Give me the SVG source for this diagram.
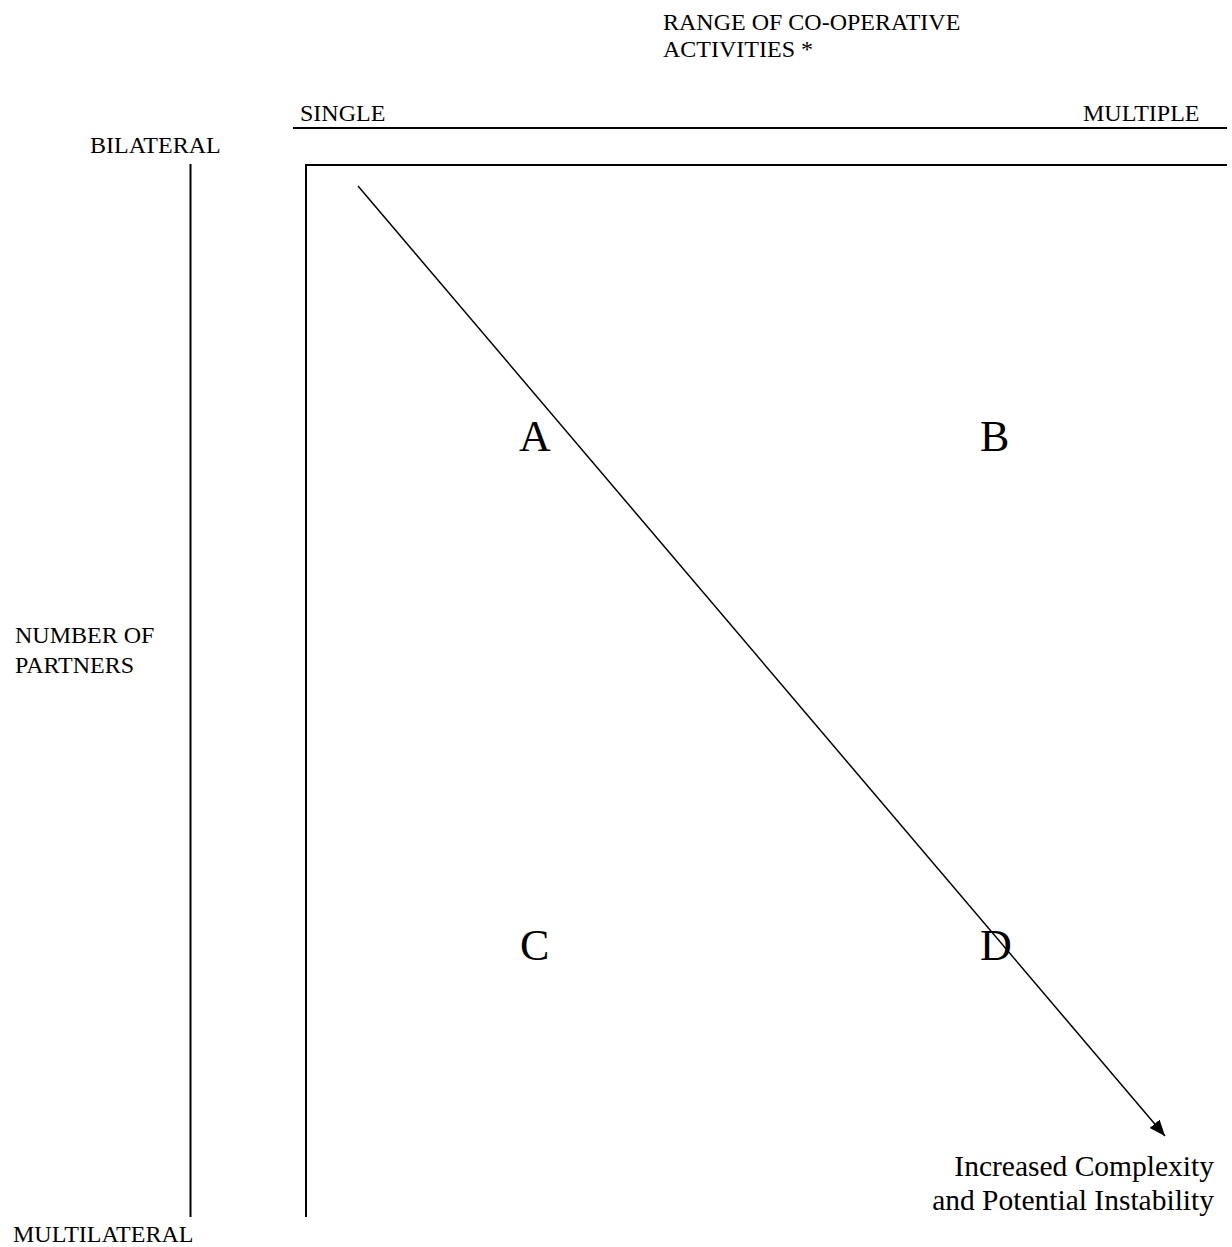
<svg xmlns="http://www.w3.org/2000/svg" width="1232" height="1247" viewBox="0 0 1232 1247">
<style>
.t{font-family:"Liberation Serif","Times New Roman",serif;font-size:24px;fill:#000}
.big{font-family:"Liberation Serif","Times New Roman",serif;font-size:44px;fill:#000}
.note{font-family:"Liberation Serif","Times New Roman",serif;font-size:29.5px;fill:#000}
.ax{stroke:#000;stroke-width:2;fill:none}
.dg{stroke:#000;stroke-width:1.5;fill:none}
</style>
<defs>
<marker id="arr" markerUnits="userSpaceOnUse" markerWidth="18" markerHeight="14" refX="16" refY="6.5" orient="auto">
<path d="M0,0 L16,6.5 L0,13 Z" fill="#000"/>
</marker>
</defs>
<rect width="1232" height="1247" fill="#fff"/>
<g id="labels">
<text class="t" x="663" y="30">RANGE OF CO-OPERATIVE</text>
<text class="t" x="663" y="57">ACTIVITIES *</text>
<text class="t" x="300" y="121">SINGLE</text>
<text class="t" x="1083" y="121">MULTIPLE</text>
<text class="t" x="90" y="153">BILATERAL</text>
<text class="t" x="15" y="643">NUMBER OF</text>
<text class="t" x="15" y="673">PARTNERS</text>
<text class="t" x="13" y="1242">MULTILATERAL</text>
</g>
<g id="quadrants">
<g id="A"><text class="big" x="519" y="451">A</text></g>
<g id="B"><text class="big" x="980" y="451">B</text></g>
<g id="C"><text class="big" x="520" y="960">C</text></g>
<g id="D"><text class="big" x="980" y="960">D</text></g>
</g>
<g id="axes">
<line class="ax" x1="293" y1="128" x2="1227" y2="128"/>
<polyline class="ax" points="1227,165 306,165 306,1217"/>
<line class="ax" x1="190.5" y1="164" x2="190.5" y2="1217"/>
</g>
<g id="connectors">
<line class="dg" x1="358" y1="186" x2="1165" y2="1136" marker-end="url(#arr)"/>
</g>
<g id="outcome">
<text class="note" x="1214" y="1176" text-anchor="end">Increased Complexity</text>
<text class="note" x="1214" y="1210" text-anchor="end">and Potential Instability</text>
</g>
</svg>
